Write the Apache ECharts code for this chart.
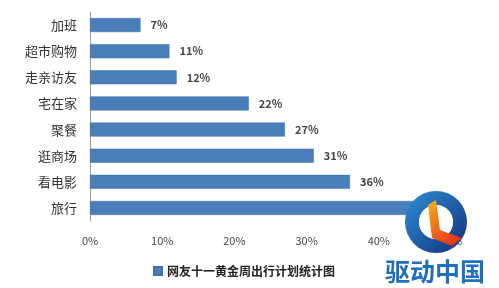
<!DOCTYPE html>
<html><head><meta charset="utf-8">
<script src="https://cdn.jsdelivr.net/npm/echarts@6/dist/echarts.min.js"></script>
<style>html,body{margin:0;padding:0;background:#fff}#c{width:499px;height:288px}</style>
</head><body><div id="c"></div>
<script>
const categories = ['旅行','看电影','逛商场','聚餐','宅在家','走亲访友','超市购物','加班'];
const values = [45,36,31,27,22,12,11,7];
const seriesName = '网友十一黄金周出行计划统计图';
const watermarkText = '驱动中国';

const chart = echarts.init(document.getElementById('c'));
chart.setOption({
  animation:false,
  grid:{left:90,right:48,top:12,bottom:67},
  legend:{bottom:6,left:148,itemWidth:8,itemHeight:8,icon:'rect',itemGap:4,
    textStyle:{fontSize:12,fontWeight:'bold',color:'#222',fontFamily:'Noto Sans CJK SC'}},
  xAxis:{type:'value',min:0,max:50,interval:10,
    axisLine:{show:false},axisTick:{show:false},splitLine:{show:false},
    axisLabel:{formatter:'{value}%',color:'#444',fontSize:11,margin:14,fontFamily:'Noto Sans CJK SC'}},
  yAxis:{type:'category',data:categories,
    axisLine:{show:true,lineStyle:{color:'#999'}},axisTick:{show:false},
    axisLabel:{color:'#333',fontSize:13,margin:13,fontFamily:'Noto Sans CJK SC'}},
  series:[{name:seriesName,type:'bar',data:values,barWidth:14,
    itemStyle:{color:'#4A7EBB',borderColor:'#3E6FA8',borderWidth:0.5},
    label:{show:true,position:'right',distance:10,formatter:'{c}%',color:'#444',fontSize:11,fontWeight:'bold',fontFamily:'Noto Sans CJK SC'}}],
  graphic:[
    {type:'ring',shape:{cx:436,cy:222,r:31,r0:17},z:100,
      style:{fill:new echarts.graphic.LinearGradient(0,0,1,1,[{offset:0,color:'#2E8FD8'},{offset:1,color:'#142F7A'}])}},
    {type:'circle',shape:{cx:436,cy:222,r:17},z:100,style:{fill:'#fff'}},
    {type:'polygon',shape:{points:[[428,205],[436,200],[440,230],[462,238],[452,246],[432,238]]},z:101,
      style:{fill:new echarts.graphic.LinearGradient(0,0,1,1,[{offset:0,color:'#F6B21A'},{offset:1,color:'#E2231A'}])}},
    {type:'text',left:385,top:259,z:101,
      style:{text:watermarkText,fill:'#1F6FBF',font:'bold 25px "Noto Sans CJK SC"'}}
  ]
});
</script></body></html>
